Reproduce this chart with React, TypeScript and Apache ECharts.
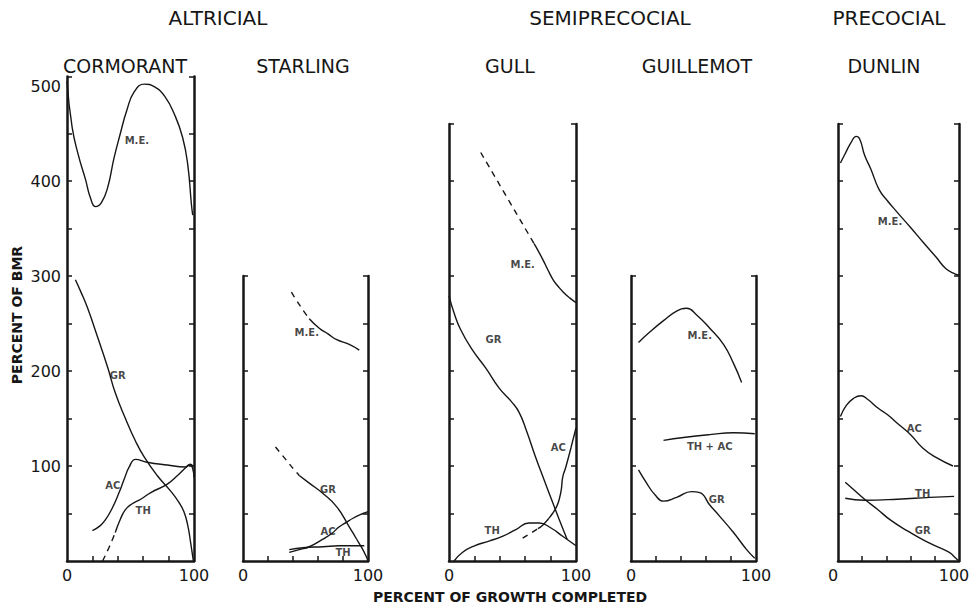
import React, { useEffect, useRef } from "react";
import * as echarts from "echarts";

const FONT = '"DejaVu Sans", "Liberation Sans", sans-serif';
const INK = "#161616";

// ---------- data: [percent of growth completed, percent of BMR] ----------
// Cormorant
const corME = [[0, 505], [4, 457], [9, 427], [14.5, 402], [18.5, 382], [22.5, 373], [27, 377], [32, 393], [37, 424], [42, 450], [47, 474], [53, 494], [61, 502], [69, 499], [77, 489], [85, 469], [91, 446], [95, 418], [98, 375], [99, 364]];
const corGR = [[6.6, 296], [11, 283], [16, 267], [24, 236], [32, 204], [38, 177], [46, 150], [54, 126], [61, 109], [71, 90], [82, 73], [88, 62], [92, 52], [95, 38], [97.5, 18], [99.5, 0]];
const corAC = [[20, 32], [26, 37], [30, 43], [35, 54], [41, 72], [45, 86], [49, 99], [54, 107], [63, 104], [79, 101], [93, 99], [97, 101], [99, 97], [100, 88]];
const corTHdash = [[28, 0], [33, 14], [38, 30]];
const corTH = [[38, 30], [42, 44], [46, 54], [51, 60], [58, 65], [66, 72], [79, 81], [87, 90], [94, 99], [97, 102], [99, 100]];
const corLabels: [number, number, string][] = [[55, 443, "M.E."], [40, 195, "GR"], [36, 80, "AC"], [60, 53, "TH"]];

// Starling
const stMEdash = [[38.7, 283], [43, 274], [48, 264], [53, 255]];
const stME = [[53, 255], [61, 245], [68, 239], [75, 233], [85, 228], [93, 222]];
const stGRdash = [[26, 120], [31, 112], [36, 104], [41, 96], [45, 90]];
const stGR = [[45, 90], [53, 82], [64, 71], [75, 57], [85, 36], [90, 25], [95, 14], [98.5, 5], [100, 0]];
const stAC = [[37, 9], [45, 12], [53, 15], [64, 23], [71, 29], [77, 36], [83, 41], [88, 45], [96, 50], [100, 52]];
const stTH = [[37, 12], [48, 14], [64, 15], [77, 16], [88, 16], [97, 16]];
const stLabels: [number, number, string][] = [[51, 241, "M.E."], [68, 75, "GR"], [68, 31, "AC"], [80, 9, "TH"]];

// Gull
const guMEdash = [[25, 430], [46, 382], [67, 334]];
const guME = [[67, 334], [70, 327], [74, 317], [78, 306], [82, 296], [86, 289], [90, 283], [95, 277], [100, 272]];
const guGR = [[0, 279], [4, 261], [9, 244], [18, 223], [29, 203], [39.5, 182], [49, 168], [55, 157], [61, 137], [68, 110], [75, 85], [81.5, 62], [87, 43], [93, 23]];
const guTH = [[4, 0], [10.5, 9], [20, 16], [31.5, 21], [42, 26], [52.6, 33], [63, 40], [71, 40], [80, 35], [89.5, 26], [100, 16]];
const guACdash = [[58, 24], [64, 29], [70, 34]];
const guAC = [[70, 34], [74, 38], [78, 44], [81.5, 50], [85, 58], [87, 66], [88.5, 76], [89.5, 88], [92, 99], [96, 119], [100, 140]];
const guLabels: [number, number, string][] = [[58, 312, "M.E."], [35, 233, "GR"], [86, 119, "AC"], [34, 32, "TH"]];

// Guillemot
const gmME = [[6, 230], [15, 241], [26, 253], [36.5, 263], [44.5, 266], [52.5, 259], [63, 245], [74, 228], [82, 208], [88.5, 188]];
const gmTHAC = [[26, 127], [42, 130], [63, 133], [82, 135], [99, 134]];
const gmGR = [[6, 96], [12.5, 82], [19, 70], [26, 63], [36.5, 67], [48.5, 73], [55, 72], [63, 59], [71, 47], [82, 30], [92.5, 12], [99, 3]];
const gmLabels: [number, number, string][] = [[55, 237, "M.E."], [63, 121, "TH + AC"], [68.5, 65, "GR"]];

// Dunlin
const duME = [[2, 419], [6, 429], [11, 441], [15, 447], [18, 444], [22, 427], [27, 413], [34, 391], [41, 379], [49, 367], [60, 351], [70, 336], [81, 320], [89, 308], [97, 302], [100, 301]];
const duAC = [[2, 152], [7, 164], [12.6, 171], [19, 174], [24.7, 170], [33, 161], [41, 154], [49, 145], [60, 133], [70, 119], [81, 109], [95, 100]];
const duTH = [[6, 66], [22, 64], [49, 65], [76, 67], [96, 68]];
const duGR = [[6, 83], [14, 74], [22, 65], [33, 54], [43.5, 43], [57, 32], [70, 22.5], [81, 15.6], [92, 9], [97, 3.5], [100, 0]];
const duLabels: [number, number, string][] = [[43, 357, "M.E."], [63, 140, "AC"], [70, 71, "TH"], [70, 32, "GR"]];

const xTickValues = [20, 40, 60, 80];
const xLabelValues = [0, 100];
const yLabelValues = [100, 200, 300, 400, 500];

type Line = { data: number[][]; dashed?: boolean };
type Panel = {
  left: number; width: number; max: number; ticks: number[]; showY: boolean; labelPad?: number;
  lines: Line[]; labels: [number, number, string][];
};

const panels: Panel[] = [
  { left: 67, width: 127, max: 510, ticks: [50, 100, 150, 200, 250, 300, 350, 400, 450, 510], showY: true,
    lines: [{ data: corME }, { data: corGR }, { data: corAC }, { data: corTHdash, dashed: true }, { data: corTH }], labels: corLabels },
  { left: 243, width: 125, max: 300, ticks: [50, 100, 150, 200, 250, 300], showY: false,
    lines: [{ data: stMEdash, dashed: true }, { data: stME }, { data: stGRdash, dashed: true }, { data: stGR }, { data: stAC }, { data: stTH }], labels: stLabels },
  { left: 449, width: 127, max: 460, ticks: [50, 100, 150, 200, 250, 300, 350, 400, 460], showY: false,
    lines: [{ data: guMEdash, dashed: true }, { data: guME }, { data: guGR }, { data: guTH }, { data: guACdash, dashed: true }, { data: guAC }], labels: guLabels },
  { left: 631, width: 125, max: 300, ticks: [50, 100, 150, 200, 250, 300], showY: false,
    lines: [{ data: gmME }, { data: gmTHAC }, { data: gmGR }], labels: gmLabels },
  { left: 838, width: 121, max: 460, ticks: [50, 100, 150, 200, 250, 300, 350, 400, 460], showY: false, labelPad: 10,
    lines: [{ data: duME }, { data: duAC }, { data: duTH }, { data: duGR }], labels: duLabels },
];

const Y0 = 561;
const K = 0.95;

function buildOption() {
  const grid: any[] = [];
  const xAxis: any[] = [];
  const yAxis: any[] = [];
  const series: any[] = [];
  const axisLine = { show: true, onZero: false, lineStyle: { color: INK, width: 2.5 } };

  panels.forEach((p, i) => {
    grid.push({ left: p.left, top: Y0 - p.max * K, width: p.width, height: p.max * K, outerBoundsMode: "none" });
    xAxis.push({
      type: "value", gridIndex: i, min: 0, max: 100,
      axisLine,
      axisTick: { show: true, inside: true, length: 5, customValues: xTickValues, lineStyle: { color: INK, width: 1.5 } },
      axisLabel: {
        show: true, customValues: xLabelValues, fontSize: 16, color: INK, fontFamily: FONT, margin: 6,
        padding: p.labelPad ? [0, p.labelPad, 0, 0] : 0,
      },
      splitLine: { show: false },
    });
    ["left", "right"].forEach((pos) => {
      yAxis.push({
        type: "value", gridIndex: i, min: 0, max: p.max, position: pos,
        axisLine,
        axisTick: { show: true, inside: true, length: 5, customValues: p.ticks, lineStyle: { color: INK, width: 1.5 } },
        axisLabel: pos === "left" && p.showY
          ? { show: true, customValues: yLabelValues, fontSize: 16, color: INK, fontFamily: FONT, margin: 6 }
          : { show: false },
        splitLine: { show: false },
      });
    });
    p.lines.forEach((l) => {
      series.push({
        type: "line", xAxisIndex: i, yAxisIndex: i * 2, data: l.data,
        smooth: 0.5, symbol: "none", silent: true,
        lineStyle: { color: INK, width: 1.4, type: l.dashed ? [6, 5] : "solid" },
      });
    });
    series.push({
      type: "scatter", xAxisIndex: i, yAxisIndex: i * 2, silent: true,
      symbolSize: 1, itemStyle: { color: "transparent" },
      data: p.labels.map(([x, y, t]) => ({ value: [x, y], name: t })),
      label: { show: true, position: "inside", formatter: "{b}", fontSize: 10, fontWeight: "bold", color: INK, fontFamily: FONT },
    });
  });

  const txt = (text: string, x: number, y: number, size: number, weight = "normal", rotation = 0) => ({
    type: "text", x, y, rotation, silent: true,
    style: {
      text, fontSize: size, fontWeight: weight, fontFamily: FONT, fill: INK,
      align: "center", verticalAlign: "middle", textAlign: "center", textVerticalAlign: "middle",
    },
  });

  const graphic = [
    txt("ALTRICIAL", 218, 18, 20),
    txt("SEMIPRECOCIAL", 610, 18, 20),
    txt("PRECOCIAL", 889, 18, 20),
    txt("CORMORANT", 125, 66, 19),
    txt("STARLING", 303, 66, 19),
    txt("GULL", 510, 66, 19),
    txt("GUILLEMOT", 697, 66, 19),
    txt("DUNLIN", 884, 66, 19),
    txt("PERCENT OF GROWTH COMPLETED", 510, 597, 14, "bold"),
    txt("PERCENT OF BMR", 17, 315, 14, "bold", Math.PI / 2),
  ];

  return { animation: false, backgroundColor: "#ffffff", grid, xAxis, yAxis, series, graphic };
}

export default function App() {
  const ref = useRef<HTMLDivElement>(null);
  useEffect(() => {
    if (!ref.current) return;
    const chart = echarts.init(ref.current, undefined, { renderer: "svg" });
    chart.setOption(buildOption() as any);
    return () => chart.dispose();
  }, []);
  return <div ref={ref} style={{ position: "fixed", left: 0, top: 0, width: 972, height: 606, background: "#fff" }} />;
}
